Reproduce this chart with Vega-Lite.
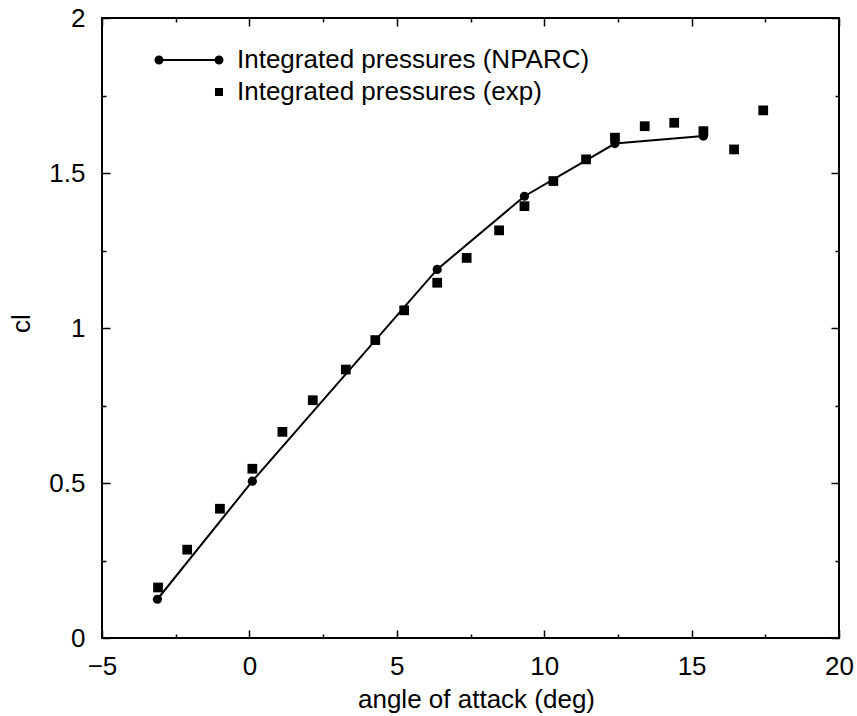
{
  "$schema": "https://vega.github.io/schema/vega-lite/v6.json",
  "width": 737,
  "height": 620,
  "autosize": {"type": "none"},
  "padding": {"left": 102, "top": 18, "right": 18, "bottom": 78},
  "background": "white",
  "config": {
    "view": {"stroke": "black", "strokeWidth": 2},
    "font": "Liberation Sans",
    "axis": {"grid": false, "domain": false, "tickColor": "black", "tickWidth": 1.5, "labelColor": "black", "titleColor": "black", "labelFont": "Liberation Sans", "titleFont": "Liberation Sans", "labelFontSize": 26, "titleFontSize": 26, "titleFontWeight": "normal"}
  },
  "data": {
    "values": [
      {"series": "Integrated pressures (NPARC)", "alpha": -3.12, "cl": 0.125},
      {"series": "Integrated pressures (NPARC)", "alpha": 0.1, "cl": 0.506},
      {"series": "Integrated pressures (NPARC)", "alpha": 6.37, "cl": 1.189},
      {"series": "Integrated pressures (NPARC)", "alpha": 9.33, "cl": 1.425},
      {"series": "Integrated pressures (NPARC)", "alpha": 12.4, "cl": 1.595},
      {"series": "Integrated pressures (NPARC)", "alpha": 15.4, "cl": 1.619},
      {"series": "Integrated pressures (exp)", "alpha": -3.1, "cl": 0.163},
      {"series": "Integrated pressures (exp)", "alpha": -2.11, "cl": 0.285},
      {"series": "Integrated pressures (exp)", "alpha": -1.0, "cl": 0.417},
      {"series": "Integrated pressures (exp)", "alpha": 0.1, "cl": 0.546},
      {"series": "Integrated pressures (exp)", "alpha": 1.12, "cl": 0.665},
      {"series": "Integrated pressures (exp)", "alpha": 2.15, "cl": 0.767},
      {"series": "Integrated pressures (exp)", "alpha": 3.27, "cl": 0.866},
      {"series": "Integrated pressures (exp)", "alpha": 4.27, "cl": 0.961},
      {"series": "Integrated pressures (exp)", "alpha": 5.25, "cl": 1.057},
      {"series": "Integrated pressures (exp)", "alpha": 6.37, "cl": 1.146},
      {"series": "Integrated pressures (exp)", "alpha": 7.37, "cl": 1.226},
      {"series": "Integrated pressures (exp)", "alpha": 8.47, "cl": 1.315},
      {"series": "Integrated pressures (exp)", "alpha": 9.33, "cl": 1.393},
      {"series": "Integrated pressures (exp)", "alpha": 10.31, "cl": 1.474},
      {"series": "Integrated pressures (exp)", "alpha": 11.42, "cl": 1.544},
      {"series": "Integrated pressures (exp)", "alpha": 12.4, "cl": 1.614},
      {"series": "Integrated pressures (exp)", "alpha": 13.41, "cl": 1.651},
      {"series": "Integrated pressures (exp)", "alpha": 14.41, "cl": 1.662},
      {"series": "Integrated pressures (exp)", "alpha": 15.4, "cl": 1.635},
      {"series": "Integrated pressures (exp)", "alpha": 16.44, "cl": 1.576},
      {"series": "Integrated pressures (exp)", "alpha": 17.43, "cl": 1.702}
    ]
  },
  "layer": [
    {
      "transform": [{"filter": "datum.series === 'Integrated pressures (NPARC)'"}],
      "mark": {"type": "line", "color": "black", "strokeWidth": 2, "point": {"filled": true, "size": 85, "color": "black", "opacity": 1}},
      "encoding": {
        "x": {"field": "alpha", "type": "quantitative",
          "scale": {"domain": [-5, 20], "nice": false, "zero": false},
          "axis": {"orient": "bottom", "title": "angle of attack (deg)",
            "values": [-5, -2.5, 0, 2.5, 5, 7.5, 10, 12.5, 15, 17.5, 20],
            "labelExpr": "datum.value % 5 === 0 ? datum.label : ''",
            "tickSize": {"condition": {"test": "datum.value % 5 === 0", "value": -8}, "value": -4},
            "labelPadding": 23, "labelFlush": false, "labelOverlap": false,
            "titleBaseline": "alphabetic", "titleY": 69, "titleX": 374}},
        "y": {"field": "cl", "type": "quantitative",
          "scale": {"domain": [0, 2], "nice": false, "zero": false},
          "axis": {"orient": "left", "title": "cl",
            "values": [0, 0.25, 0.5, 0.75, 1, 1.25, 1.5, 1.75, 2],
            "labelExpr": "datum.value % 0.5 === 0 ? format(datum.value, '~g') : ''",
            "tickSize": {"condition": {"test": "datum.value % 0.5 === 0", "value": -8}, "value": -4},
            "labelPadding": 25, "labelFlush": false, "labelOverlap": false,
            "titleBaseline": "middle", "titleX": -81, "titleY": 305}}
      }
    },
    {
      "transform": [{"filter": "datum.series === 'Integrated pressures (exp)'"}],
      "mark": {"type": "point", "filled": true, "size": 95, "opacity": 1},
      "encoding": {
        "x": {"field": "alpha", "type": "quantitative",
          "scale": {"domain": [-5, 20], "nice": false, "zero": false},
          "axis": {"orient": "top", "title": null, "labels": false,
            "values": [-5, -2.5, 0, 2.5, 5, 7.5, 10, 12.5, 15, 17.5, 20],
            "tickSize": {"condition": {"test": "datum.value % 5 === 0", "value": -8}, "value": -4}}},
        "y": {"field": "cl", "type": "quantitative",
          "scale": {"domain": [0, 2], "nice": false, "zero": false},
          "axis": {"orient": "right", "title": null, "labels": false,
            "values": [0, 0.25, 0.5, 0.75, 1, 1.25, 1.5, 1.75, 2],
            "tickSize": {"condition": {"test": "datum.value % 0.5 === 0", "value": -8}, "value": -4}}},
        "color": {"value": "black"},
        "shape": {"field": "series", "type": "nominal",
          "scale": {"domain": ["Integrated pressures (NPARC)", "Integrated pressures (exp)"],
            "range": ["M1.125,0A1.125,1.125,0,1,1,-1.125,0A1.125,1.125,0,1,1,1.125,0ZM-13.875,0A1.125,1.125,0,1,1,-16.125,0A1.125,1.125,0,1,1,-13.875,0ZM-15,-0.22L0,-0.22L0,0.22L-15,0.22Z", "square"]},
          "legend": {"orient": "none", "legendX": 104, "legendY": 29, "title": null,
            "labelFontSize": 26, "labelFont": "Liberation Sans", "labelColor": "black", "labelLimit": 0,
            "symbolSize": 64, "symbolFillColor": "black", "symbolStrokeColor": "black", "symbolStrokeWidth": 1,
            "labelOffset": 5, "rowPadding": 6, "padding": 0}}
      }
    }
  ],
  "resolve": {"axis": {"x": "independent", "y": "independent"}}
}
